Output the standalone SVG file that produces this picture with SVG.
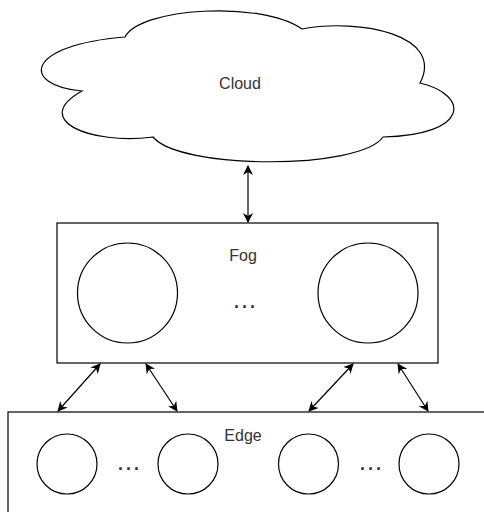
<svg xmlns="http://www.w3.org/2000/svg" width="484" height="512" viewBox="0 0 484 512">
<defs>
<marker id="ah" viewBox="0 0 10 10" refX="9" refY="5" markerWidth="10" markerHeight="10" markerUnits="userSpaceOnUse" orient="auto-start-reverse">
<path d="M0,0 L10,5 L0,10 L3,5 Z" fill="#000"/>
</marker>
<style>
.sh{fill:#fff;stroke:#000;stroke-width:1.2}
.lb{font-family:"Liberation Sans",Arial,sans-serif;font-size:16px;fill:#333;text-anchor:middle}
.dt{font-family:"Liberation Sans",Arial,sans-serif;font-size:18px;font-weight:bold;letter-spacing:3px;fill:#333;text-anchor:middle}
.cn{stroke:#000;stroke-width:1.2;fill:none;marker-start:url(#ah);marker-end:url(#ah)}
</style>
</defs>
<rect width="484" height="512" fill="#fff"/>
<g id="cloud">
<path class="sh" d="M125,37 C140,8 260,0 302,29 C360,18 445,35 420,83 C470,95 470,135 383,137 C360,170 180,170 153,137 C90,145 30,120 82,91 C20,85 25,45 125,37 Z"/>
<text class="lb" x="240" y="89">Cloud</text>
</g>
<g id="fog">
<rect class="sh" x="57" y="223" width="381" height="140"/>
<circle class="sh" cx="127.5" cy="293" r="50"/>
<circle class="sh" cx="368" cy="293" r="50"/>
<text class="lb" x="243" y="261">Fog</text>
<text class="dt" x="246" y="308">...</text>
</g>
<g id="edge">
<rect class="sh" x="8" y="412" width="490" height="120"/>
<text class="lb" x="243" y="441">Edge</text>
<circle class="sh" cx="67" cy="464" r="30"/>
<circle class="sh" cx="188" cy="464" r="30"/>
<circle class="sh" cx="308.5" cy="464" r="30"/>
<circle class="sh" cx="429" cy="464" r="30"/>
<text class="dt" x="130" y="470">...</text>
<text class="dt" x="372" y="470">...</text>
</g>
<g id="connectors">
<line class="cn" x1="248" y1="166" x2="248" y2="222"/>
<line class="cn" x1="100" y1="364" x2="58" y2="411"/>
<line class="cn" x1="146" y1="364" x2="177" y2="411"/>
<line class="cn" x1="353" y1="364" x2="309" y2="411"/>
<line class="cn" x1="398" y1="364" x2="428" y2="411"/>
</g>
</svg>
